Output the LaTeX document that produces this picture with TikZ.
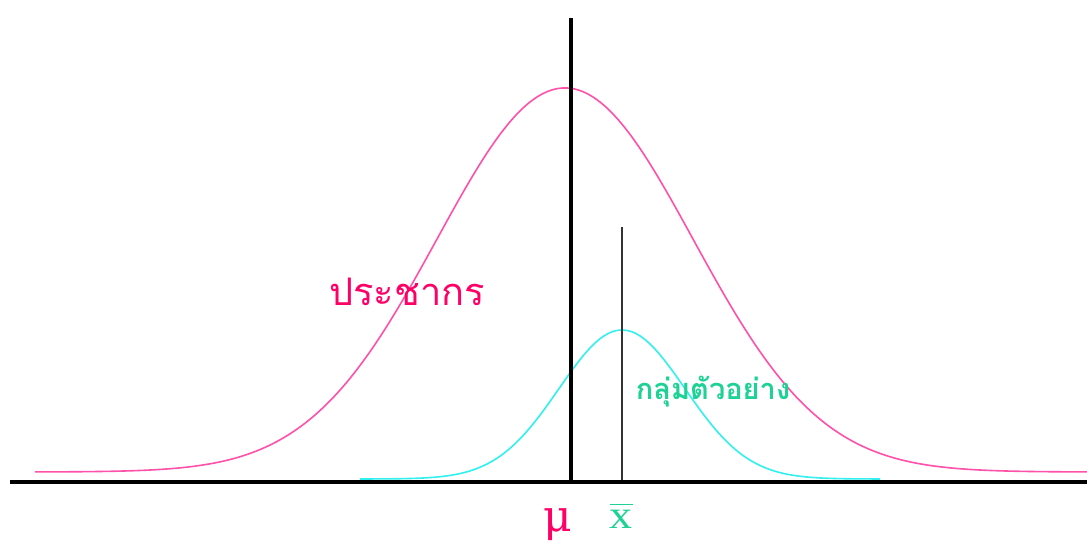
\documentclass[tikz,border=0pt]{standalone}
\usepackage{fontspec}
\newfontfamily\thaifont[Script=Thai]{Loma}
\newfontfamily\lserif{Liberation Serif}
\newfontfamily\dserif{DejaVu Serif}
\definecolor{popcurve}{RGB}{255,80,170}
\definecolor{poptext}{RGB}{255,0,102}
\definecolor{sampcurve}{RGB}{50,240,240}
\definecolor{samptext}{RGB}{30,210,150}
\tikzset{
  axisline/.style={line width=4pt, black},
  popline/.style={line width=1.6pt, popcurve},
  sampline/.style={line width=1.6pt, sampcurve},
  meanline/.style={line width=1.6pt, black!80},
}
\begin{document}
\begin{tikzpicture}[x=1pt,y=-1pt]
\useasboundingbox[fill=white] (0,0) rectangle (1087,544);
% population curve
\draw[popline] plot[domain=35:1087, samples=200, smooth] (\x, {472-384*exp(-((\x-565)/128)^2/2)});
% sample curve
\draw[sampline] plot[domain=360:880, samples=120, smooth] (\x, {479-149*exp(-((\x-622)/63)^2/2)});
% axes
\coordinate (axl) at (10,482);
\coordinate (axr) at (1087,482);
\coordinate (vt) at (571,18);
\coordinate (vb) at (571,482);
\coordinate (mt) at (622,227);
\coordinate (mb) at (622,482);
\draw[meanline] (mt) -- (mb);
\draw[axisline] (axl) -- (axr);
\draw[axisline] (vt) -- (vb);
% labels
\node[text=poptext, font=\thaifont\fontsize{38}{38}\selectfont] (pop) at (407,292) {ประชากร};
\node[text=samptext, font=\thaifont\bfseries\fontsize{29}{29}\selectfont] (samp) at (713,392) {กลุ่มตัวอย่าง};
\node[text=poptext, font=\dserif\fontsize{44}{44}\selectfont, inner sep=0pt] (mu) at (558,525) {μ};
\node[text=samptext, font=\lserif\fontsize{40}{40}\selectfont, inner sep=0pt, xscale=1.15] (xbar) at (621,516) {\vbox{\hrule height 1.6pt\kern5pt\hbox{x}}};
\end{tikzpicture}
\end{document}
